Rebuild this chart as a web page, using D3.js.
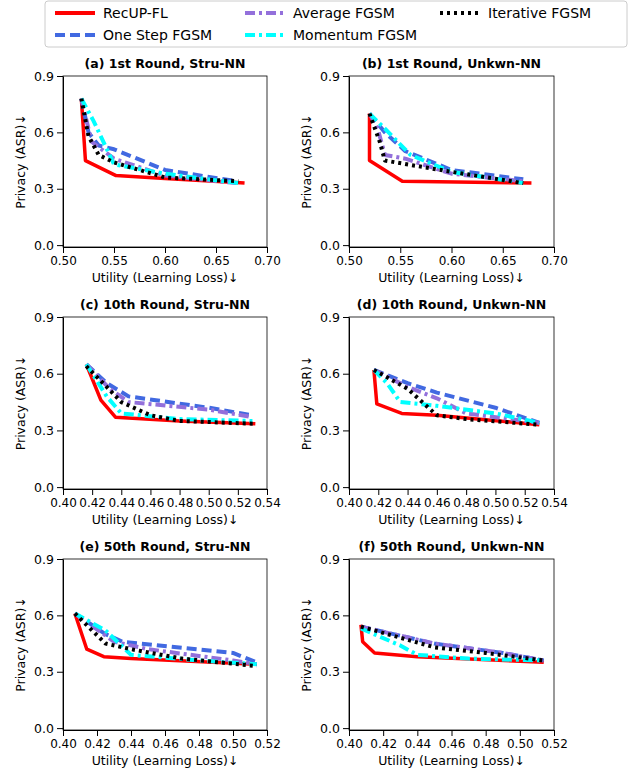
<!DOCTYPE html>
<html><head><meta charset="utf-8">
<script src="https://cdn.jsdelivr.net/npm/d3@7"></script>
<style>body{margin:0;background:#fff}text{font-family:"DejaVu Sans",sans-serif}</style>
</head><body>
<svg id="chart" width="643" height="777"></svg>
<script>
const seriesNames = ['RecUP-FL', 'One Step FGSM', 'Average FGSM', 'Momentum FGSM', 'Iterative FGSM'];
const titles = ['(a) 1st Round, Stru-NN', '(b) 1st Round, Unkwn-NN', '(c) 10th Round, Stru-NN',
  '(d) 10th Round, Unkwn-NN', '(e) 50th Round, Stru-NN', '(f) 50th Round, Unkwn-NN'];
const xTicks = [[0.5, 0.55, 0.6, 0.65, 0.7], [0.4, 0.42, 0.44, 0.46, 0.48, 0.5, 0.52, 0.54], [0.4, 0.42, 0.44, 0.46, 0.48, 0.5, 0.52]];
const yTicks = [0, 0.3, 0.6, 0.9];

// [panel][series] = [[utility, privacy], ...]
const panelA = [
  [[0.518,0.78],[0.522,0.45],[0.552,0.37],[0.6,0.355],[0.678,0.33]],
  [[0.518,0.78],[0.525,0.60],[0.535,0.53],[0.55,0.51],[0.6,0.40],[0.67,0.34]],
  [[0.518,0.78],[0.528,0.55],[0.55,0.46],[0.6,0.37],[0.67,0.33]],
  [[0.518,0.78],[0.53,0.66],[0.55,0.43],[0.6,0.38],[0.672,0.33]],
  [[0.518,0.78],[0.525,0.58],[0.535,0.48],[0.55,0.44],[0.6,0.36],[0.672,0.34]]];
const panelB = [
  [[0.52,0.70],[0.52,0.45],[0.552,0.34],[0.678,0.33]],
  [[0.52,0.70],[0.535,0.60],[0.555,0.50],[0.6,0.40],[0.67,0.35]],
  [[0.52,0.70],[0.528,0.62],[0.535,0.48],[0.555,0.46],[0.6,0.38],[0.67,0.34]],
  [[0.52,0.70],[0.535,0.62],[0.56,0.48],[0.6,0.39],[0.67,0.33]],
  [[0.52,0.70],[0.53,0.55],[0.535,0.45],[0.6,0.39],[0.67,0.33]]];
const panelC = [
  [[0.416,0.65],[0.426,0.46],[0.436,0.37],[0.48,0.35],[0.532,0.335]],
  [[0.416,0.65],[0.43,0.55],[0.445,0.48],[0.5,0.42],[0.53,0.38]],
  [[0.416,0.65],[0.432,0.52],[0.445,0.45],[0.5,0.41],[0.53,0.37]],
  [[0.416,0.65],[0.43,0.48],[0.44,0.39],[0.48,0.36],[0.53,0.35]],
  [[0.416,0.64],[0.43,0.53],[0.44,0.45],[0.46,0.38],[0.48,0.35],[0.532,0.335]]];
const panelD = [
  [[0.417,0.62],[0.419,0.44],[0.436,0.39],[0.46,0.38],[0.53,0.33]],
  [[0.417,0.62],[0.44,0.55],[0.46,0.50],[0.5,0.42],[0.53,0.34]],
  [[0.417,0.62],[0.44,0.53],[0.46,0.47],[0.48,0.39],[0.53,0.34]],
  [[0.417,0.62],[0.426,0.55],[0.435,0.45],[0.46,0.43],[0.5,0.39],[0.53,0.34]],
  [[0.417,0.62],[0.44,0.52],[0.46,0.38],[0.48,0.36],[0.53,0.33]]];
const panelE = [
  [[0.407,0.61],[0.414,0.42],[0.424,0.38],[0.44,0.37],[0.514,0.34]],
  [[0.407,0.61],[0.425,0.50],[0.435,0.46],[0.5,0.40],[0.514,0.35]],
  [[0.407,0.61],[0.43,0.46],[0.45,0.42],[0.5,0.36],[0.514,0.34]],
  [[0.407,0.61],[0.425,0.52],[0.44,0.39],[0.48,0.36],[0.514,0.34]],
  [[0.407,0.61],[0.425,0.45],[0.44,0.42],[0.47,0.37],[0.514,0.33]]];
const panelF = [
  [[0.407,0.55],[0.408,0.46],[0.415,0.40],[0.44,0.38],[0.514,0.35]],
  [[0.407,0.54],[0.45,0.45],[0.49,0.40],[0.514,0.36]],
  [[0.407,0.54],[0.45,0.45],[0.49,0.40],[0.514,0.36]],
  [[0.407,0.53],[0.43,0.44],[0.44,0.39],[0.47,0.37],[0.514,0.36]],
  [[0.407,0.54],[0.45,0.43],[0.48,0.40],[0.514,0.36]]];
const panels = [panelA, panelB, panelC, panelD, panelE, panelF];

const colors = ['#ff0000', '#4169e1', '#9370db', '#00ffff', '#000000'];
const dashes = ['none', '10,5', '10,4,3,4', '10,4,3,4', '3,4'];

const svg = d3.select('#chart');

// legend
const leg = svg.append('g');
leg.append('rect').attr('x', 45).attr('y', 1).attr('width', 582).attr('height', 46)
  .attr('rx', 3).attr('fill', '#fff').attr('stroke', '#ccc');
const legPos = [[55, 13], [55, 35], [245, 13], [245, 35], [440, 13]];
seriesNames.forEach((n, i) => {
  const [lx, ly] = legPos[i];
  leg.append('line').attr('x1', lx).attr('x2', lx + 40).attr('y1', ly).attr('y2', ly)
    .attr('stroke', colors[i]).attr('stroke-width', 4).attr('stroke-dasharray', dashes[i]);
  leg.append('text').attr('x', lx + 48).attr('y', ly + 5).attr('font-size', 14).text(n);
});

const cols = [[63, 267], [349, 554]];
const rows = [[76, 247], [317, 489], [559, 730]];

panels.forEach((pd, p) => {
  const r = Math.floor(p / 2), c = p % 2;
  const xt = xTicks[r];
  const x = d3.scaleLinear().domain([xt[0], xt[xt.length - 1]]).range(cols[c]);
  const y = d3.scaleLinear().domain([-0.01, 0.9]).range([rows[r][1], rows[r][0]]);
  const g = svg.append('g');
  g.append('g').attr('transform', `translate(0,${rows[r][1]})`)
    .call(d3.axisBottom(x).tickValues(xt).tickFormat(d3.format('.2f')).tickSizeOuter(0))
    .call(a => a.selectAll('text').attr('font-size', 12).attr('fill', '#000'));
  g.append('g').attr('transform', `translate(${cols[c][0]},0)`)
    .call(d3.axisLeft(y).tickValues(yTicks).tickFormat(d3.format('.1f')).tickSizeOuter(0))
    .call(a => a.selectAll('text').attr('font-size', 12.5).attr('fill', '#000'));
  g.append('rect').attr('x', cols[c][0]).attr('y', rows[r][0])
    .attr('width', cols[c][1] - cols[c][0]).attr('height', rows[r][1] - rows[r][0])
    .attr('fill', 'none').attr('stroke', '#000').attr('stroke-width', 0.8);
  const line = d3.line().x(d => x(d[0])).y(d => y(d[1]));
  pd.forEach((s, i) => {
    g.append('path').datum(s).attr('d', line).attr('fill', 'none')
      .attr('stroke', colors[i]).attr('stroke-width', i === 0 ? 3.5 : 4)
      .attr('stroke-dasharray', dashes[i]).attr('stroke-linejoin', 'round');
  });
  const cx = (cols[c][0] + cols[c][1]) / 2;
  g.append('text').attr('x', cx).attr('y', rows[r][0] - 8).attr('text-anchor', 'middle')
    .attr('font-size', 12.5).attr('font-weight', 'bold').text(titles[p]);
  g.append('text').attr('x', cx).attr('y', rows[r][1] + 35).attr('text-anchor', 'middle')
    .attr('font-size', 12.5).text('Utility (Learning Loss)↓');
  g.append('text').attr('transform', `translate(${cols[c][0] - 38},${(rows[r][0] + rows[r][1]) / 2}) rotate(-90)`)
    .attr('text-anchor', 'middle').attr('font-size', 12.5).text('Privacy (ASR)↓');
});
</script>
</body></html>
